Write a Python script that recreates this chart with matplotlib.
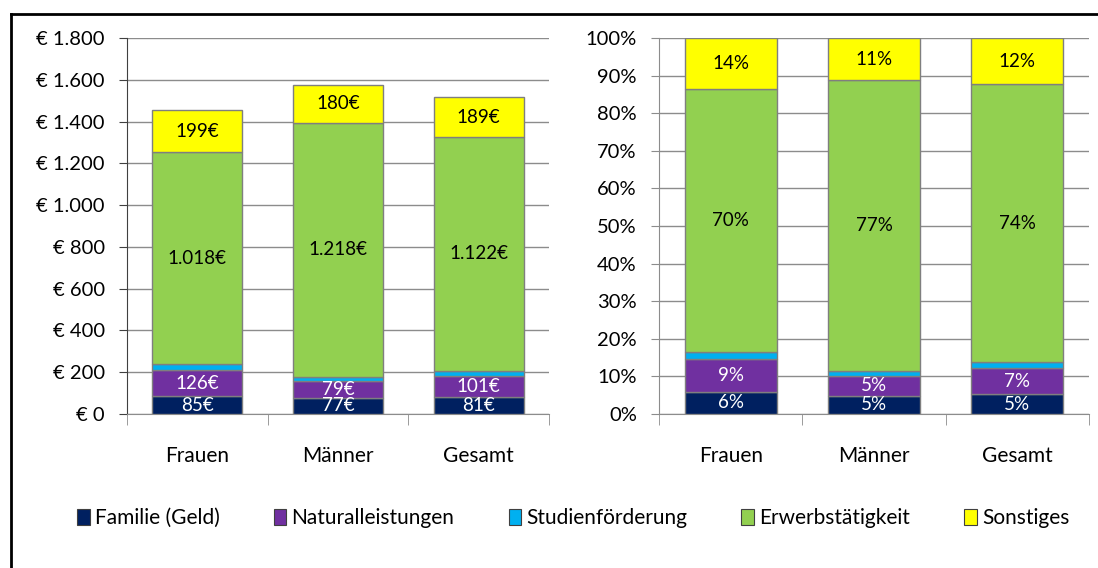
import matplotlib

matplotlib.use('Agg')
import matplotlib.pyplot as plt
import numpy as np
from matplotlib.lines import Line2D
from matplotlib.patches import Patch

plt.rcParams['font.family'] = ['Lato', 'DejaVu Sans']

groups = ['Frauen', 'Männer', 'Gesamt']
series = ['Familie (Geld)', 'Naturalleistungen', 'Studienförderung',
          'Erwerbstätigkeit', 'Sonstiges']
colors = ['#002060', '#7030A0', '#00B0F0', '#92D050', '#FFFF00']
text_colors = ['white', 'white', None, 'black', 'black']

# euro per month, per series (Frauen, Männer, Gesamt)
familie_eur = [85, 77, 81]
natural_eur = [126, 79, 101]
studien_eur = [26, 21, 23]
erwerb_eur = [1018, 1218, 1122]
sonst_eur = [199, 180, 189]

# shares in percent
familie_pct = [5.9, 4.9, 5.3]
natural_pct = [8.6, 5.1, 6.9]
studien_pct = [2.0, 1.4, 1.6]
erwerb_pct = [69.9, 77.3, 73.9]
sonst_pct = [13.6, 11.3, 12.3]

eur_ticks = [0, 200, 400, 600, 800, 1000, 1200, 1400, 1600, 1800]
pct_ticks = list(range(0, 101, 10))

eur = [familie_eur, natural_eur, studien_eur, erwerb_eur, sonst_eur]
pct = [familie_pct, natural_pct, studien_pct, erwerb_pct, sonst_pct]


def fmt_eur(v):
    return '{:,}'.format(int(round(v))).replace(',', '.') + '€'


def fmt_pct(v):
    return '%d%%' % round(v)


def fmt_eur_tick(v):
    return '€ ' + '{:,}'.format(v).replace(',', '.')


fig = plt.figure(figsize=(10.98, 5.68), dpi=100)
ax1 = fig.add_axes([127 / 1098, 1 - 414 / 568, 422 / 1098, 376 / 568])
ax2 = fig.add_axes([659 / 1098, 1 - 414 / 568, 430 / 1098, 376 / 568])

x = np.arange(len(groups))
grid_col = '#8c8c8c'

for ax, data, fmt, ticks, tlabels in [
        (ax1, eur, fmt_eur, eur_ticks, [fmt_eur_tick(t) for t in eur_ticks]),
        (ax2, pct, fmt_pct, pct_ticks, ['%d%%' % t for t in pct_ticks])]:
    bottom = np.zeros(len(groups))
    for vals, col, tc in zip(data, colors, text_colors):
        vals = np.array(vals, dtype=float)
        ax.bar(x, vals, 0.64, bottom=bottom, color=col,
               edgecolor='#7f7f7f', linewidth=1, zorder=3)
        if tc is not None:
            for xi, b, v in zip(x, bottom, vals):
                ax.text(xi, b + v / 2, fmt(v), ha='center', va='center',
                        color=tc, fontsize=13.5, zorder=4)
        bottom += vals
    ax.set_xlim(-0.5, 2.5)
    ax.set_ylim(ticks[0], ticks[-1])
    ax.set_yticks(ticks)
    ax.set_yticklabels(tlabels, fontsize=14.5)
    ax.set_xticks(x)
    ax.set_xticklabels(groups, fontsize=15)
    ax.set_xticks([-0.5, 0.5, 1.5, 2.5], minor=True)
    ax.tick_params(axis='x', which='major', length=0, pad=23)
    ax.tick_params(axis='x', which='minor', length=8, color=grid_col,
                   direction='out')
    ax.tick_params(axis='y', length=6, pad=10, color=grid_col,
                   direction='out')
    ax.yaxis.grid(True, color=grid_col, linewidth=1)
    ax.set_axisbelow(True)
    for s in ['top', 'right']:
        ax.spines[s].set_visible(False)
    ax.spines['bottom'].set_color(grid_col)
    ax.spines['left'].set_color(grid_col)

ax1.spines['left'].set_color('#404040')
ax1.tick_params(axis='y', color='#404040')

handles = [Patch(facecolor=c, edgecolor='#404040', linewidth=0.8)
           for c in colors]
fig.legend(handles, series, loc='center', bbox_to_anchor=(0.522, 0.088),
           ncol=5, frameon=False, fontsize=15, handlelength=0.6,
           handleheight=0.8, handletextpad=0.25, columnspacing=2.6)

# outer frame (only top and left edges visible)
fig.add_artist(Line2D([11 / 1098, 11 / 1098], [0, 1 - 14 / 568],
                      transform=fig.transFigure, color='black', linewidth=2))
fig.add_artist(Line2D([11 / 1098, 1], [1 - 14 / 568, 1 - 14 / 568],
                      transform=fig.transFigure, color='black', linewidth=2))

plt.savefig('out.png', dpi=100)
plt.close()
